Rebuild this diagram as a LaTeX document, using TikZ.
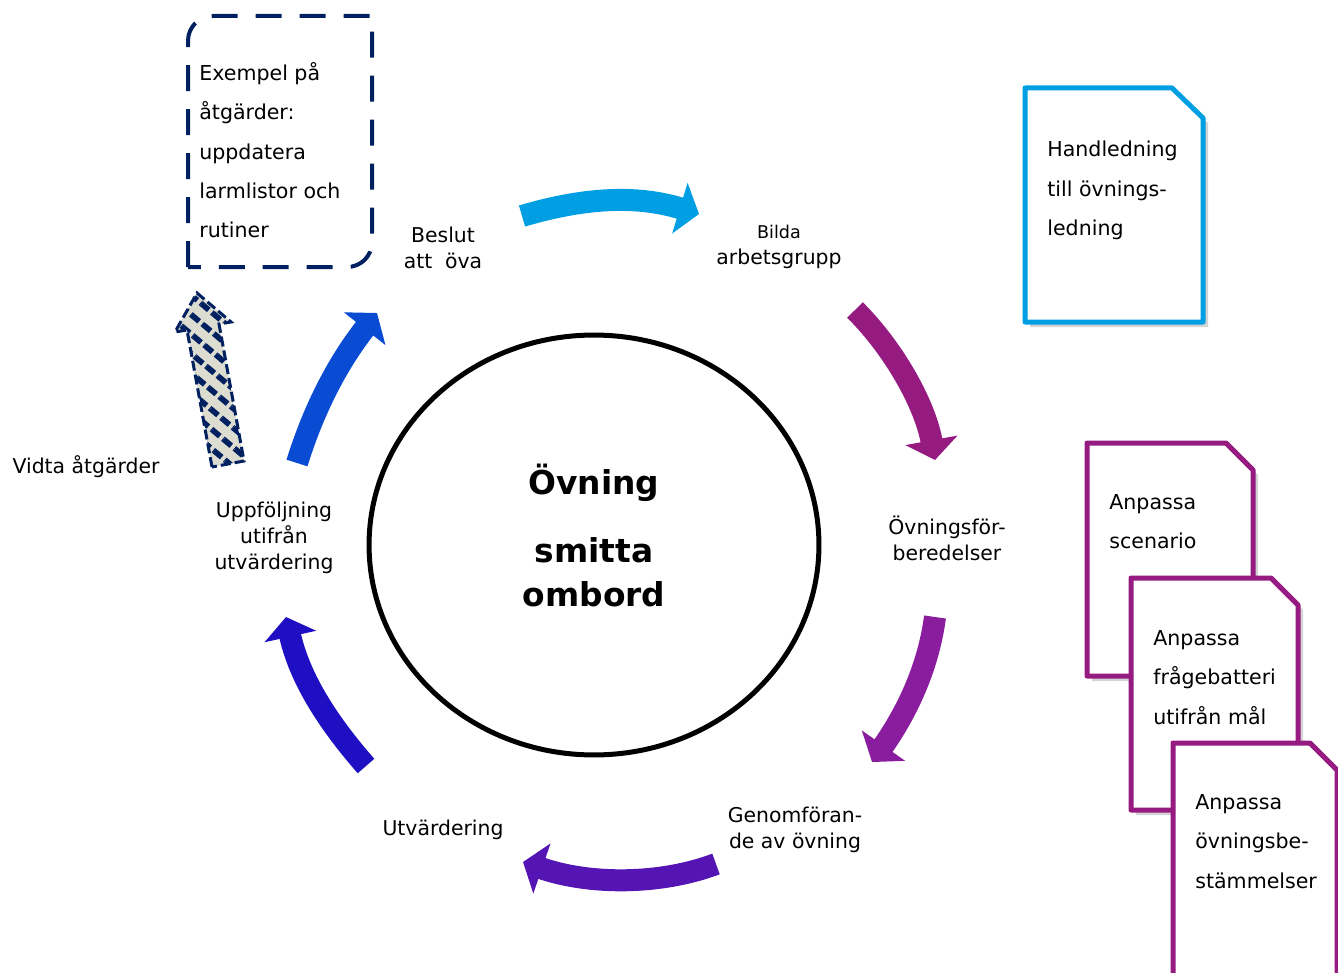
\documentclass[tikz,border=0pt]{standalone}
\usepackage{fontspec}
\setmainfont{DejaVu Sans}
\usetikzlibrary{arrows.meta,patterns.meta,shadows}
\definecolor{stepcyan}{HTML}{009FE3}
\definecolor{stepplum}{HTML}{951B81}
\definecolor{stepviolet}{HTML}{8A1C9E}
\definecolor{stepindigo}{HTML}{5514B4}
\definecolor{stepdeep}{HTML}{1E10C2}
\definecolor{stepblue}{HTML}{0A4BD3}
\definecolor{navy}{HTML}{002060}
\definecolor{stripebg}{HTML}{DCDCD0}
\tikzset{
  cyclearrow/.style={line width=0.44cm,-{Triangle[length=0.4cm,width=1.04cm]}},
  lbl/.style={align=center,inner sep=0pt,font=\fontsize{11.6}{14.7}\selectfont},
  doctxt/.style={align=left,anchor=north west,inner sep=0pt,font=\fontsize{11.7}{22.4}\selectfont},
  docpage/.style={line width=0.1cm,fill=white,line join=round,
    drop shadow={shadow xshift=0.1cm,shadow yshift=-0.1cm,opacity=0.35}},
  bigtxt/.style={inner sep=0pt,font=\fontsize{18.7}{22}\selectfont\bfseries}
}

\begin{document}
\begin{tikzpicture}[x=0.02cm,y=-0.02cm]
\useasboundingbox (0,0) rectangle (1338,973);
\clip (0,0) rectangle (1338,973);
%
\draw[line width=0.1cm] (594,545) ellipse [x radius=4.5cm,y radius=4.2cm];
\node[bigtxt] (ovning) at (594,483) {Övning};
\node[bigtxt] (smitta) at (594,550) {smitta};
\node[bigtxt] (ombord) at (594,594) {ombord};
%
\node[lbl] (beslut) at (443,248) {Beslut\\att\ \ öva};
\node[lbl] (bilda) at (779,247) {{\fontsize{10}{14.7}\selectfont Bilda}\\arbetsgrupp};
\node[lbl] (forb) at (947,538) {Övningsför-\\beredelser};
\node[lbl] (genomf) at (795,830) {Genomföran-\\de av övning};
\node[lbl] (utv) at (443,830) {Utvärdering};
\node[lbl] (uppf) at (274,538) {Uppföljning\\utifrån\\utvärdering};
\node[lbl] (vidta) at (86,467) {Vidta åtgärder};
%
\coordinate (a1s) at (522,216); \coordinate (a1e) at (699,214);
\coordinate (a2s) at (855,310); \coordinate (a2e) at (935,460);
\coordinate (a3s) at (935,617); \coordinate (a3e) at (872,762);
\coordinate (a4s) at (716,864); \coordinate (a4e) at (523,862);
\coordinate (a5s) at (366,766); \coordinate (a5e) at (286,617);
\coordinate (a6s) at (297,463); \coordinate (a6e) at (377,313);
\draw[cyclearrow,stepcyan] (a1s) .. controls (590,196) and (640,196) .. (a1e);
\draw[cyclearrow,stepplum] (a2s) .. controls (895,350) and (925,405) .. (a2e);
\draw[cyclearrow,stepviolet] (a3s) .. controls (928,670) and (905,715) .. (a3e);
\draw[cyclearrow,stepindigo] (a4s) .. controls (660,885) and (590,885) .. (a4e);
\draw[cyclearrow,stepdeep] (a5s) .. controls (330,725) and (300,680) .. (a5e);
\draw[cyclearrow,stepblue] (a6s) .. controls (315,405) and (340,360) .. (a6e);
%
\draw[navy,line width=0.08cm,dash pattern=on 0.52cm off 0.36cm]
  (188,267) -- (188,41) .. controls (188,27) and (199,16) .. (213,16)
  -- (372,16) -- (372,242) .. controls (372,256) and (361,267) .. (347,267) -- cycle;
\node[doctxt] (exempel) at (199,62) {Exempel på\\åtgärder:\\uppdatera\\larmlistor och\\rutiner};
%
\draw[navy,line width=0.06cm,dash pattern=on 0.2cm off 0.08cm,preaction={fill=stripebg},
  pattern={Lines[angle=-40,distance=8.5pt,line width=3.2pt]},pattern color=navy]
  (212,467) -- (187,330) -- (175,332) -- (197,293) -- (231,322) -- (219,324) -- (244,461) -- cycle;
%
\draw[docpage,draw=stepcyan] (1025,88) -- (1172,88) -- (1203,118) -- (1203,322) -- (1025,322) -- cycle;
\node[doctxt] (handl) at (1047,141) {Handledning\\till övnings-\\ledning};
\draw[docpage,draw=stepplum] (1087,443) -- (1226,443) -- (1253,470) -- (1253,676) -- (1087,676) -- cycle;
\node[doctxt] (scen) at (1109,494) {Anpassa\\scenario};
\draw[docpage,draw=stepplum] (1131,578) -- (1271,578) -- (1298,605) -- (1298,810) -- (1131,810) -- cycle;
\node[doctxt] (fragb) at (1153,630) {Anpassa\\frågebatteri\\utifrån mål};
\draw[docpage,draw=stepplum] (1173,743) -- (1310,743) -- (1337,770) -- (1337,990) -- (1173,990) -- cycle;
\node[doctxt] (bestm) at (1195,794) {Anpassa\\övningsbe-\\stämmelser};
\end{tikzpicture}
\end{document}
